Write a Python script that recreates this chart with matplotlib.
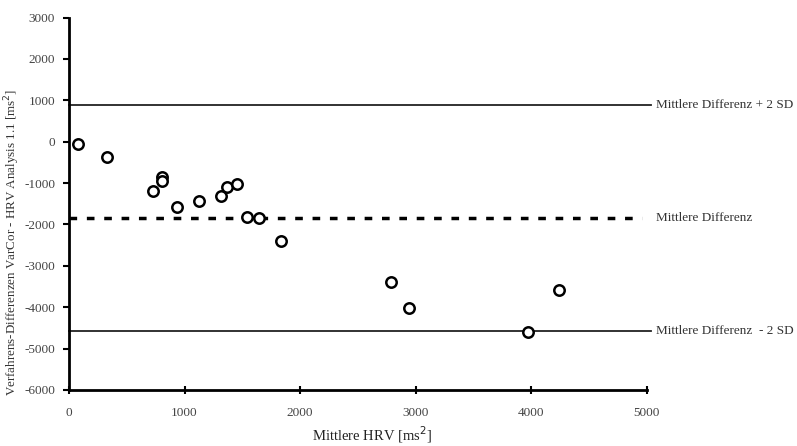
import matplotlib.pyplot as plt

plt.rcParams['font.family'] = ['Liberation Serif', 'DejaVu Serif']

# Mittelwerte (x) und Differenzen (y) der Messverfahren
hrv_mean = [78, 329, 727, 807, 807, 937, 1125, 1315, 1364, 1456,
            1543, 1644, 1834, 2785, 2944, 3974, 4242]
hrv_diff = [-55, -369, -1195, -858, -947, -1566, -1422, -1308, -1084, -1019,
            -1822, -1855, -2393, -3388, -4017, -4593, -3573]

mean_diff = -1840
upper_loa = 880
lower_loa = -4570
line_labels = ['Mittlere Differenz + 2 SD', 'Mittlere Differenz', 'Mittlere Differenz  - 2 SD']
xticks = list(range(0, 5001, 1000))
yticks = list(range(-6000, 3001, 1000))

fig = plt.figure(figsize=(7.97, 4.46), dpi=100)
ax = fig.add_axes([0.0866, 0.1256, 0.725, 0.835])

ax.plot([0, 5040], [upper_loa, upper_loa], color='#222222', lw=1.3, clip_on=False)
ax.plot([0, 4960], [mean_diff, mean_diff], color='black', lw=2.5,
        dashes=(2.2, 2.8), clip_on=False)
ax.plot([0, 5040], [lower_loa, lower_loa], color='#222222', lw=1.3, clip_on=False)

ax.plot(hrv_mean, hrv_diff, 'o', mfc='white', mec='black', ms=7.5, mew=1.8,
        clip_on=False, zorder=5)

for yv, lab in zip([upper_loa, mean_diff, lower_loa], line_labels):
    ax.text(5080, yv, lab, fontsize=9.5, color='#333333', va='center', ha='left',
            clip_on=False)

ax.set_xlim(0, 5000)
ax.set_ylim(-6000, 3000)
ax.set_xticks(xticks)
ax.set_xticklabels([str(v) for v in xticks])
ax.set_yticks(yticks)
ax.set_yticklabels([str(v) for v in yticks])
ax.spines['top'].set_visible(False)
ax.spines['right'].set_visible(False)
ax.spines['left'].set_linewidth(2)
ax.spines['bottom'].set_linewidth(2)
ax.tick_params(axis='x', direction='inout', length=6, width=1.5, labelsize=9.5,
               labelcolor='#444444', pad=9)
ax.tick_params(axis='y', direction='out', length=4, width=1.5, labelsize=9.5,
               labelcolor='#444444', pad=6)

ax.set_xlabel('Mittlere HRV [ms$^2$]', fontsize=10.5, color='#222222')
ax.xaxis.set_label_coords(0.524, -0.091)
ax.set_ylabel('Verfahrens-Differenzen VarCor - HRV Analysis 1.1 [ms$^2$]',
              fontsize=9.4, color='#333333')
ax.yaxis.set_label_coords(-0.082, 0.397)

fig.savefig('out.png', dpi=100)
